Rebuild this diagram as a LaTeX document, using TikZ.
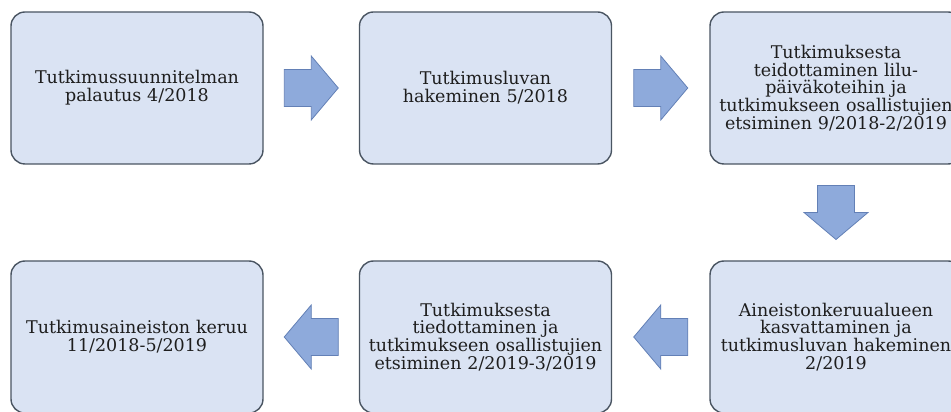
\documentclass[tikz,border=0pt]{standalone}
\usepackage{fontspec}
\setmainfont{DejaVu Serif}
\usetikzlibrary{calc}

\definecolor{boxfill}{HTML}{DAE3F3}
\definecolor{boxline}{HTML}{4A5562}
\definecolor{arrowfill}{HTML}{8EAADB}
\definecolor{arrowline}{HTML}{6380B6}
\definecolor{ink}{HTML}{1E1E1E}

\tikzset{
  stage/.style={rectangle, rounded corners=14pt, fill=boxfill, draw=boxline,
    line width=1.4pt, minimum width=252pt, minimum height=152pt,
    text width=252pt, align=center, inner sep=0pt, text=ink,
    font=\fontsize{17.5}{17.7}\selectfont},
  blockarrow/.style={fill=arrowfill, draw=arrowline, line width=0.8pt, line join=miter}
}

% block arrow centred on a coordinate, pointing in the given direction
\newcommand\flowarrow[2]{%
  \draw[blockarrow, shift={(#1)}, rotate=#2]
    (-27,-18.5) -- (0,-18.5) -- (0,-32) -- (27,0) -- (0,32) -- (0,18.5)
    -- (-27,18.5) -- cycle;}

\begin{document}
\begin{tikzpicture}[x=1pt, y=1pt]
  \useasboundingbox (0,0) rectangle (951,412);
  \clip (0,0) rectangle (951,412);

  % top row
  \node[stage] (b1) at (137,324) {Tutkimussuunnitelman\\ palautus 4/2018};
  \node[stage] (b2) at (485.5,324) {Tutkimusluvan\\ hakeminen 5/2018};
  \node[stage] (b3) at (836,324) {Tutkimuksesta\\ teidottaminen lilu-\\ päiväkoteihin ja\\ tutkimukseen osallistujien\\ etsiminen 9/2018-2/2019};

  % bottom row
  \node[stage] (b6) at (836,75) {Aineistonkeruualueen\\ kasvattaminen ja\\ tutkimusluvan hakeminen\\ 2/2019};
  \node[stage] (b5) at (485.5,75) {Tutkimuksesta\\ tiedottaminen ja\\ tutkimukseen osallistujien\\ etsiminen 2/2019-3/2019};
  \node[stage] (b4) at (137,75) {Tutkimusaineiston keruu\\ 11/2018-5/2019};

  % arrows between the stages
  \coordinate (a12) at ($(b1.east)!0.5!(b2.west)$);
  \coordinate (a23) at ($(b2.east)!0.5!(b3.west)$);
  \coordinate (a36) at ($(b3.south)!0.5!(b6.north)$);
  \coordinate (a65) at ($(b6.west)!0.5!(b5.east)$);
  \coordinate (a54) at ($(b5.west)!0.5!(b4.east)$);

  \flowarrow{a12}{0}
  \flowarrow{a23}{0}
  \flowarrow{a36}{-90}
  \flowarrow{a65}{180}
  \flowarrow{a54}{180}
\end{tikzpicture}
\end{document}
